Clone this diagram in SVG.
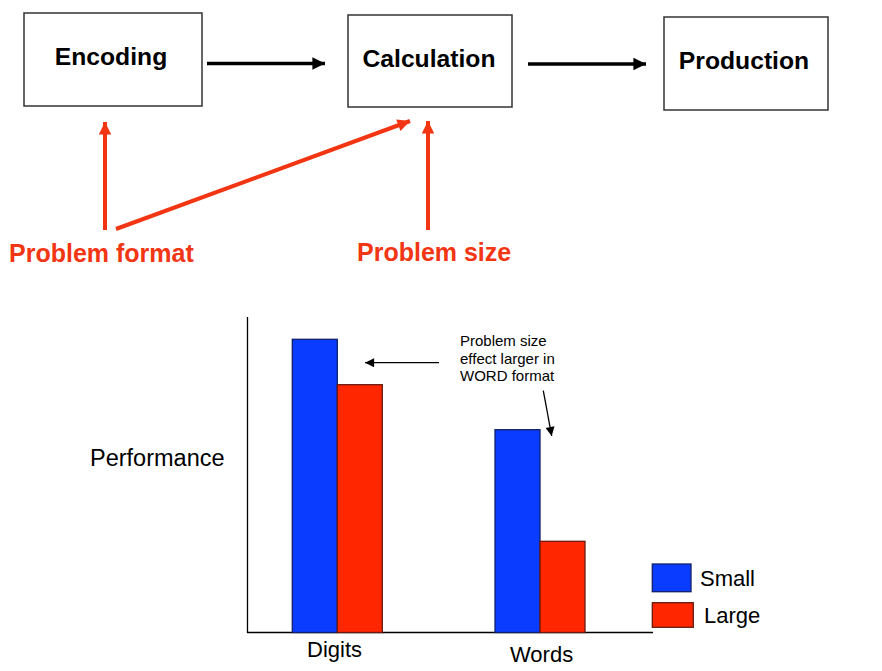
<svg xmlns="http://www.w3.org/2000/svg" width="882" height="671" viewBox="0 0 882 671">
<style>
.box{fill:#fff;stroke:#333;stroke-width:1.5}
.lbl{font-family:"Liberation Sans",Arial,sans-serif;font-weight:bold;font-size:24.7px;fill:#000}
.red{font-family:"Liberation Sans",Arial,sans-serif;font-weight:bold;font-size:25px;fill:#f23512}
.txt{font-family:"Liberation Sans",Arial,sans-serif;fill:#000}
.blk{stroke:#000;stroke-width:3.5;fill:none}
.rl{stroke:#f23512;stroke-width:4;fill:none}
.thin{stroke:#000;stroke-width:1.3;fill:none}
.blue{fill:#0a3cff;stroke:#10206a;stroke-width:1.3}
.redb{fill:#ff2600;stroke:#6a1a10;stroke-width:1.3}
</style>
<defs>
<marker id="ab" viewBox="0 0 10 10" refX="10" refY="5" markerWidth="5" markerHeight="3.6" orient="auto" markerUnits="strokeWidth"><path d="M0,0 L10,5 L0,10 z" fill="#000"/></marker>
<marker id="ar" viewBox="0 0 10 10" refX="10" refY="5" markerWidth="3.8" markerHeight="3.1" orient="auto" markerUnits="strokeWidth"><path d="M0,0 L10,5 L0,10 z" fill="#f23512"/></marker>
<marker id="at" viewBox="0 0 10 10" refX="10" refY="5" markerWidth="10" markerHeight="7" orient="auto" markerUnits="strokeWidth"><path d="M0,0 L10,5 L0,10 z" fill="#000"/></marker>
</defs>
<rect width="882" height="671" fill="#fff"/>
<g id="encoding"><rect class="box" x="24" y="13" width="178" height="93"/><text class="lbl" x="111" y="65" text-anchor="middle">Encoding</text></g>
<g id="calculation"><rect class="box" x="348" y="15" width="164" height="92"/><text class="lbl" x="429" y="67" text-anchor="middle">Calculation</text></g>
<g id="production"><rect class="box" x="664" y="17" width="164" height="93"/><text class="lbl" x="744" y="69" text-anchor="middle">Production</text></g>
<g id="problem-format"><text class="red" x="9" y="262">Problem format</text></g>
<g id="problem-size"><text class="red" x="357" y="261">Problem size</text></g>
<g id="connectors">
<line class="blk" x1="207" y1="63.5" x2="325" y2="63.5" marker-end="url(#ab)"/>
<line class="blk" x1="528" y1="64" x2="646" y2="64" marker-end="url(#ab)"/>
<line class="rl" x1="105" y1="230" x2="105" y2="122" marker-end="url(#ar)"/>
<line class="rl" x1="116" y1="229" x2="410" y2="121" marker-end="url(#ar)"/>
<line class="rl" x1="428" y1="230" x2="428" y2="121" marker-end="url(#ar)"/>
</g>
<g id="chart">
<line x1="247.5" y1="317" x2="247.5" y2="633" stroke="#000" stroke-width="1.3"/>
<line x1="247" y1="632.5" x2="653" y2="632.5" stroke="#000" stroke-width="1.3"/>
<rect class="blue" x="292.3" y="339.3" width="45" height="293.2"/>
<rect class="redb" x="337.3" y="384.7" width="45" height="247.8"/>
<rect class="blue" x="495" y="429.7" width="45" height="202.8"/>
<rect class="redb" x="540" y="541.3" width="45" height="91.2"/>
<text class="txt" x="90" y="466" font-size="23.5">Performance</text>
<text class="txt" x="307" y="657" font-size="22">Digits</text>
<text class="txt" x="510" y="662" font-size="22">Words</text>
<text class="txt" x="460" y="346" font-size="15">Problem size</text>
<text class="txt" x="460" y="363.5" font-size="15">effect larger in</text>
<text class="txt" x="460" y="381" font-size="15">WORD format</text>
<line class="thin" x1="439" y1="362.7" x2="365" y2="362.7" marker-end="url(#at)"/>
<line class="thin" x1="543.3" y1="390.7" x2="551.7" y2="436" marker-end="url(#at)"/>
</g>
<g id="legend">
<rect class="blue" x="652.3" y="564" width="38.7" height="27.7"/>
<rect class="redb" x="652.3" y="602.7" width="41" height="24.6"/>
<text class="txt" x="700" y="586" font-size="22">Small</text>
<text class="txt" x="704" y="623" font-size="22">Large</text>
</g>
</svg>
